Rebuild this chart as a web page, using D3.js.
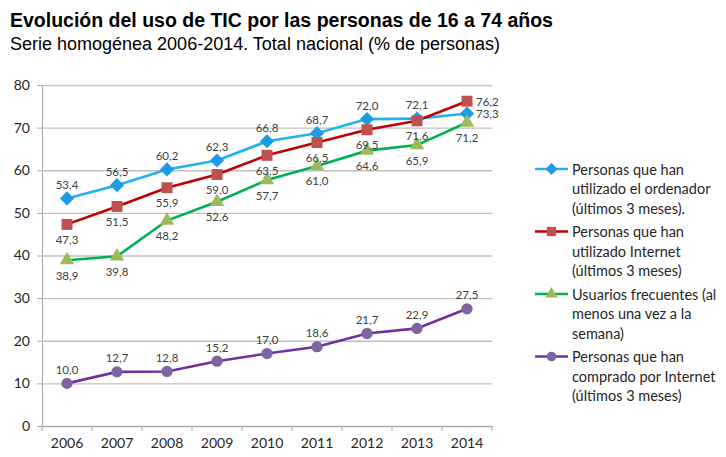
<!DOCTYPE html>
<meta charset="utf-8">
<head>
<script src="https://d3js.org/d3.v7.min.js"></script>
<style>
  body { margin: 0; background: #fff; }
  svg { display: block; }
  .title { font-family: "Liberation Sans", Arial, sans-serif; font-weight: bold; font-size: 19.5px; fill: #000; }
  .subtitle { font-family: "Liberation Sans", Arial, sans-serif; font-size: 18px; fill: #000; }
  .tick text { font-family: Lato, "Open Sans", sans-serif; font-size: 14px; fill: #262626; }
  .lbl { font-family: Lato, "Open Sans", sans-serif; font-size: 11.5px; fill: #404040; }
  .leg { font-family: Lato, "Open Sans", sans-serif; font-size: 14.5px; fill: #262626; }
</style>
</head>
<body>
<svg id="chart" width="726" height="457"></svg>
<script>
// data
var years = ["2006", "2007", "2008", "2009", "2010", "2011", "2012", "2013", "2014"];
var ordenador = [53.4, 56.5, 60.2, 62.3, 66.8, 68.7, 72.0, 72.1, 73.3];
var internet = [47.3, 51.5, 55.9, 59.0, 63.5, 66.5, 69.5, 71.6, 76.2];
var frecuentes = [38.9, 39.8, 48.2, 52.6, 57.7, 61.0, 64.6, 65.9, 71.2];
var compras = [10.0, 12.7, 12.8, 15.2, 17.0, 18.6, 21.7, 22.9, 27.5];
var yTicks = [0, 10, 20, 30, 40, 50, 60, 70, 80];

// label placement for each point: "a" above, "b" below, "r" right
var series = [
  { values: ordenador, line: "#20b2f0", fill: "#1c9be6", shape: "diamond",
    pos: ["a","a","a","a","a","a","a","a","r"],
    legend: ["Personas que han", "utilizado el ordenador", "(últimos 3 meses)."] },
  { values: internet, line: "#c00000", fill: "#c0504d", shape: "square",
    pos: ["b","b","b","b","b","b","b","b","r"],
    legend: ["Personas que han", "utilizado Internet", "(últimos 3 meses)"] },
  { values: frecuentes, line: "#00b050", fill: "#9bbb59", shape: "triangle",
    pos: ["b","b","b","b","b","b","b","b","b"],
    legend: ["Usuarios frecuentes (al", "menos una vez a la", "semana)"] },
  { values: compras, line: "#7030a0", fill: "#8064a2", shape: "circle",
    pos: ["a","a","a","a","a","a","a","a","a"],
    legend: ["Personas que han", "comprado por Internet", "(últimos 3 meses)"] }
];

var svg = d3.select("#chart");
var pLeft = 42, pRight = 492, pTop = 85, pBottom = 426;

svg.append("text").attr("class", "title").attr("x", 10).attr("y", 27)
  .text("Evolución del uso de TIC por las personas de 16 a 74 años");
svg.append("text").attr("class", "subtitle").attr("x", 10).attr("y", 50)
  .text("Serie homogénea 2006-2014. Total nacional (% de personas)");

var x = d3.scaleBand().domain(years).range([pLeft, pRight]);
var y = d3.scaleLinear().domain([0, 80]).range([pBottom, pTop]);

// gridlines + y axis
var yAxis = svg.append("g").attr("transform", "translate(" + pLeft + ",0)")
  .call(d3.axisLeft(y).tickValues(yTicks).tickSize(5).tickPadding(7).tickFormat(d3.format("d")));
yAxis.select(".domain").attr("stroke", "#a6a6a6");
yAxis.selectAll(".tick line").attr("stroke", "#a6a6a6");
yAxis.selectAll(".tick").append("line")
  .attr("x1", 0).attr("x2", pRight - pLeft).attr("stroke", "#bfbfbf").attr("stroke-width", 1.3);

// x axis
var xAxis = svg.append("g").attr("transform", "translate(0," + pBottom + ")")
  .call(d3.axisBottom(x).tickSize(0).tickPadding(12));
xAxis.select(".domain").attr("stroke", "#a6a6a6");
var bounds = [x.range()[0]].concat(years.map(function(d) { return x(d) + x.bandwidth(); }));
xAxis.selectAll(".sep").data(bounds).enter().append("line")
  .attr("x1", function(d) { return d; }).attr("x2", function(d) { return d; })
  .attr("y1", 0).attr("y2", 5).attr("stroke", "#a6a6a6");

function cx(i) { return x(years[i]) + x.bandwidth() / 2; }

var symbols = {
  diamond: d3.symbol().type(d3.symbolSquare).size(100),
  square: d3.symbol().type(d3.symbolSquare).size(120),
  triangle: d3.symbol().type(d3.symbolTriangle).size(90),
  circle: d3.symbol().type(d3.symbolCircle).size(100)
};
var rot = { diamond: " rotate(45)", square: "", triangle: "", circle: "" };

var line = d3.line().x(function(d, i) { return cx(i); }).y(function(d) { return y(d); });

series.forEach(function(s) {
  svg.append("path").datum(s.values).attr("d", line)
    .attr("fill", "none").attr("stroke", s.line).attr("stroke-width", 2.6);
});
series.forEach(function(s) {
  svg.selectAll(null).data(s.values).enter().append("path")
    .attr("d", symbols[s.shape])
    .attr("transform", function(d, i) { return "translate(" + cx(i) + "," + y(d) + ")" + rot[s.shape]; })
    .attr("fill", s.fill);
});
var fmt = function(v) { return v.toFixed(1).replace(".", ","); };
series.forEach(function(s) {
  svg.selectAll(null).data(s.values).enter().append("text")
    .attr("class", "lbl")
    .attr("x", function(d, i) { return s.pos[i] === "r" ? cx(i) + 9 : cx(i); })
    .attr("y", function(d, i) {
      var p = s.pos[i];
      return p === "a" ? y(d) - 14 : p === "b" ? y(d) + 15 : y(d);
    })
    .attr("text-anchor", function(d, i) { return s.pos[i] === "r" ? "start" : "middle"; })
    .attr("dominant-baseline", "central")
    .text(fmt);
});

// legend
var leg = svg.append("g");
series.forEach(function(s, k) {
  var y0 = 169 + k * 62.5;
  leg.append("line").attr("x1", 535).attr("x2", 568).attr("y1", y0).attr("y2", y0)
    .attr("stroke", s.line).attr("stroke-width", 2.6);
  leg.append("path").attr("d", symbols[s.shape]).attr("fill", s.fill)
    .attr("transform", "translate(551.5," + y0 + ") scale(0.85)" + rot[s.shape]);
  s.legend.forEach(function(t, j) {
    leg.append("text").attr("class", "leg").attr("x", 572).attr("y", y0 + j * 19.6)
      .attr("dominant-baseline", "central").text(t);
  });
});
</script>
</body>
